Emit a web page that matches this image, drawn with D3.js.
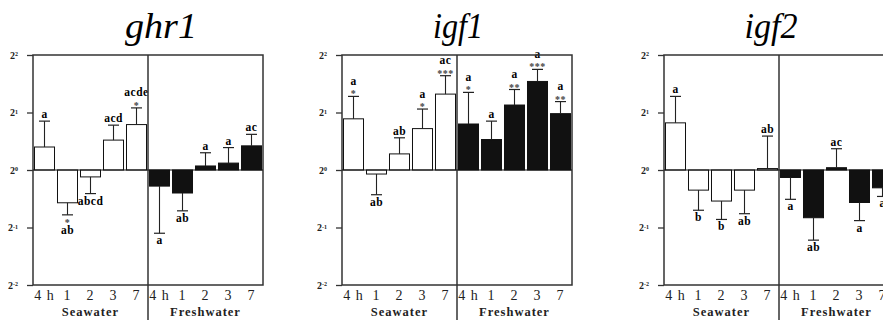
<!DOCTYPE html>
<html>
<head>
<meta charset="utf-8">
<script src="https://cdn.jsdelivr.net/npm/d3@7"></script>
<style>
  body { margin: 0; background: #fff; }
  svg { display: block; }
  text { font-family: "Liberation Serif", "Times New Roman", serif; }
</style>
</head>
<body>
<div id="chart"></div>
<script>
// Values are log2 fold change
const genes = ["ghr1", "igf1", "igf2"];
const timeLabels = ["4 h", "1", "2", "3", "7"];
const groupLabels = ["Seawater", "Freshwater"];
const yExponents = [-2, -1, 0, 1, 2];

// 5 seawater bars then 5 freshwater bars
const ghr1Mean = [0.40, -0.57, -0.12, 0.52, 0.79, -0.28, -0.40, 0.07, 0.12, 0.42];
const ghr1Sem = [0.45, 0.21, 0.29, 0.26, 0.29, 0.82, 0.31, 0.23, 0.27, 0.20];
const ghr1Letters = ["a", "ab", "abcd", "acd", "acde", "a", "ab", "a", "a", "ac"];
const ghr1Stars = ["", "*", "", "", "*", "", "", "", "", ""];

const igf1Mean = [0.89, -0.07, 0.28, 0.72, 1.32, 0.80, 0.53, 1.13, 1.54, 0.98];
const igf1Sem = [0.39, 0.36, 0.28, 0.34, 0.32, 0.55, 0.32, 0.27, 0.21, 0.21];
const igf1Letters = ["a", "ab", "ab", "a", "ac", "a", "a", "a", "a", "a"];
const igf1Stars = ["*", "", "", "*", "***", "*", "", "**", "***", "**"];

const igf2Mean = [0.82, -0.35, -0.54, -0.35, 0.025, -0.13, -0.83, 0.04, -0.565, -0.31];
const igf2Sem = [0.46, 0.35, 0.32, 0.41, 0.565, 0.38, 0.39, 0.33, 0.315, 0.15];
const igf2Letters = ["a", "b", "b", "ab", "ab", "a", "ab", "ac", "a", "a"];
const igf2Stars = ["", "", "", "", "", "", "", "", "", ""];

const panels = [
  { name: genes[0], mean: ghr1Mean, sem: ghr1Sem, letters: ghr1Letters, stars: ghr1Stars, left: 33, titleX: 161, titleW: 72 },
  { name: genes[1], mean: igf1Mean, sem: igf1Sem, letters: igf1Letters, stars: igf1Stars, left: 342, titleX: 458, titleW: 50 },
  { name: genes[2], mean: igf2Mean, sem: igf2Sem, letters: igf2Letters, stars: igf2Stars, left: 664, titleX: 771, titleW: 53 }
];

const width = 883, height = 320;
const plotTop = 55, plotBottom = 285, panelW = 230;
const frameColor = "#333";

const svg = d3.select("#chart").append("svg")
  .attr("width", width)
  .attr("height", height);

const y = d3.scaleLinear().domain([-2, 2]).range([plotBottom, plotTop]);

panels.forEach(p => {
  const g = svg.append("g");
  const ids = d3.range(10);
  const x = d3.scaleBand().domain(ids)
    .range([p.left, p.left + panelW])
    .paddingInner(0.13).paddingOuter(0.065);
  const mid = p.left + panelW / 2;

  // title
  g.append("text")
    .attr("x", p.titleX).attr("y", 38)
    .attr("text-anchor", "middle")
    .attr("font-family", "Liberation Serif, serif")
    .attr("font-style", "italic")
    .attr("font-size", 36)
    .attr("textLength", p.titleW)
    .attr("lengthAdjust", "spacingAndGlyphs")
    .text(p.name);

  // bars
  g.selectAll("rect.bar").data(ids).join("rect")
    .attr("class", "bar")
    .attr("x", i => x(i))
    .attr("width", x.bandwidth())
    .attr("y", i => y(Math.max(0, p.mean[i])))
    .attr("height", i => Math.abs(y(p.mean[i]) - y(0)))
    .attr("fill", i => i < 5 ? "#fff" : "#111")
    .attr("stroke", "#111")
    .attr("stroke-width", 1);

  // error bars (one-sided, away from zero)
  const errEnd = i => p.mean[i] >= 0 ? p.mean[i] + p.sem[i] : p.mean[i] - p.sem[i];
  const cx = i => x(i) + x.bandwidth() / 2;
  g.selectAll("line.err").data(ids).join("line")
    .attr("class", "err")
    .attr("x1", cx).attr("x2", cx)
    .attr("y1", i => y(p.mean[i])).attr("y2", i => y(errEnd(i)))
    .attr("stroke", "#222").attr("stroke-width", 1.1);
  g.selectAll("line.cap").data(ids).join("line")
    .attr("class", "cap")
    .attr("x1", i => cx(i) - 5.5).attr("x2", i => cx(i) + 5.5)
    .attr("y1", i => y(errEnd(i))).attr("y2", i => y(errEnd(i)))
    .attr("stroke", "#222").attr("stroke-width", 1.2);

  // significance stars
  const sign = i => p.mean[i] >= 0 ? -1 : 1;
  g.selectAll("text.star").data(ids.filter(i => p.stars[i])).join("text")
    .attr("class", "star")
    .attr("x", cx)
    .attr("y", i => y(errEnd(i)) + (sign(i) > 0 ? 11 : 1))
    .attr("text-anchor", "middle")
    .attr("font-size", 10)
    .attr("font-weight", "bold")
    .attr("fill", "#444")
    .attr("letter-spacing", 0.5)
    .text(i => p.stars[i]);

  // letters
  g.selectAll("text.letter").data(ids).join("text")
    .attr("class", "letter")
    .attr("x", cx)
    .attr("y", i => {
      const off = p.stars[i] ? 15.5 : 7;
      return y(errEnd(i)) + sign(i) * off;
    })
    .attr("dominant-baseline", "central")
    .attr("text-anchor", "middle")
    .attr("font-size", 11.5)
    .attr("font-weight", "bold")
    .attr("letter-spacing", 0.5)
    .text(i => p.letters[i]);

  // frame
  g.append("rect")
    .attr("x", p.left).attr("y", plotTop)
    .attr("width", panelW).attr("height", plotBottom - plotTop)
    .attr("fill", "none").attr("stroke", frameColor).attr("stroke-width", 1.5);
  g.append("line")
    .attr("x1", mid).attr("x2", mid)
    .attr("y1", plotTop).attr("y2", height)
    .attr("stroke", frameColor).attr("stroke-width", 1.5);
  g.append("line")
    .attr("x1", p.left).attr("x2", p.left + panelW)
    .attr("y1", y(0)).attr("y2", y(0))
    .attr("stroke", "#111").attr("stroke-width", 1.2);

  // y axis
  const yAxis = g.append("g")
    .attr("transform", `translate(${p.left},0)`)
    .call(d3.axisLeft(y).tickValues(yExponents).tickSize(6).tickPadding(3).tickFormat(() => "2"));
  yAxis.select(".domain").remove();
  yAxis.selectAll(".tick line").attr("stroke", frameColor).attr("stroke-width", 1.3);
  yAxis.selectAll(".tick text")
    .attr("font-family", "Liberation Serif, serif")
    .attr("font-size", 10)
    .attr("font-weight", "bold")
    .attr("fill", "#222")
    .attr("dx", "-0.6em")
    .append("tspan")
    .attr("dy", "-0.45em")
    .attr("font-size", 6)
    .text(d => d < 0 ? "-" + Math.abs(d) : String(d));

  // x axis tick labels
  const xAxis = g.append("g")
    .attr("transform", `translate(0,${plotBottom})`)
    .call(d3.axisBottom(x).tickSize(0).tickPadding(5).tickFormat(i => timeLabels[i % 5]));
  xAxis.select(".domain").remove();
  xAxis.selectAll(".tick text")
    .attr("font-family", "Liberation Serif, serif")
    .attr("font-size", 14)
    .attr("fill", "#222")
    .attr("letter-spacing", 1);

  // group labels
  g.selectAll("text.group").data(groupLabels).join("text")
    .attr("class", "group")
    .attr("x", (d, k) => p.left + panelW / 4 + k * panelW / 2)
    .attr("y", 316)
    .attr("text-anchor", "middle")
    .attr("font-size", 12.5)
    .attr("font-weight", "bold")
    .attr("letter-spacing", 1)
    .attr("fill", "#222")
    .text(d => d);
});
</script>
</body>
</html>
